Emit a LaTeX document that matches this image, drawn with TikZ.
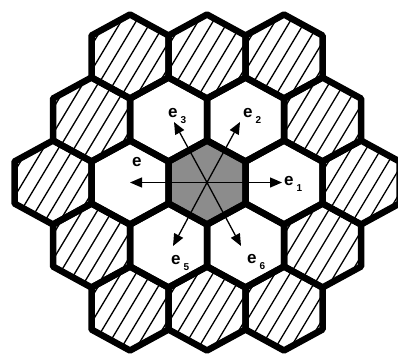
\documentclass[tikz,border=0pt]{standalone}
\usepackage{fontspec}
\setsansfont{Liberation Sans}
\usetikzlibrary{arrows.meta}
\begin{document}
\begin{tikzpicture}[x=1pt,y=-1pt,
  hexborder/.style={line width=6.5pt,line join=round},
  hatchline/.style={line width=1.3pt},
  vec/.style={line width=1.3pt,-{Triangle[length=12pt,width=10pt]}},
  lab/.style={font=\sffamily\bfseries\fontsize{17}{17}\selectfont,inner sep=0pt,anchor=base west}]
\useasboundingbox (0,0) rectangle (398,356);
\def\hh{38.5}\def\RR{42}
\newcommand\hexat[2]{(#1,#2-\RR) -- (#1+\hh,#2-\RR/2) -- (#1+\hh,#2+\RR/2) -- (#1,#2+\RR) -- (#1-\hh,#2+\RR/2) -- (#1-\hh,#2-\RR/2) -- cycle}
\newcommand\lbl[1]{e\hspace{3pt}\raisebox{-6pt}{\fontsize{10}{10}\selectfont #1}}
% outer ring: hatched
\foreach \cx/\cy in {130/56.5,207/56.5,284/56.5,
                     91.5/119.5,322.5/119.5,
                     53/182.5,361/182.5,
                     91.5/245.5,322.5/245.5,
                     130/308.5,207/308.5,284/308.5}{
  \begin{scope}
    \clip \hexat{\cx}{\cy};
    \foreach \i in {-6,...,6}
      \draw[hatchline] (\cx+\i*15-30,\cy+50) -- (\cx+\i*15+30,\cy-50);
  \end{scope}
}
% centre
\fill[black!45] \hexat{207}{182.5};
\coordinate (c) at (207,182.5);
\coordinate (t1) at (282,182.5);
\coordinate (t2) at (240,122);
\coordinate (t3) at (174,122);
\coordinate (t4) at (130,182.5);
\coordinate (t5) at (173,246);
\coordinate (t6) at (241,246);
\foreach \k in {1,...,6} \draw[vec] (c) -- (t\k);
% borders
\foreach \cx/\cy in {130/56.5,207/56.5,284/56.5,
                     91.5/119.5,168.5/119.5,245.5/119.5,322.5/119.5,
                     53/182.5,130/182.5,207/182.5,284/182.5,361/182.5,
                     91.5/245.5,168.5/245.5,245.5/245.5,322.5/245.5,
                     130/308.5,207/308.5,284/308.5}{
  \draw[hexborder] \hexat{\cx}{\cy};
}
\node[lab] (l1) at (284,185) {\lbl{1}};
\node[lab] (l2) at (243,117) {\lbl{2}};
\node[lab] (l3) at (168,117) {\lbl{3}};
\node[lab] (l4) at (132,166) {e};
\node[lab] (l5) at (171,264) {\lbl{5}};
\node[lab] (l6) at (247,263) {\lbl{6}};
\end{tikzpicture}
\end{document}
